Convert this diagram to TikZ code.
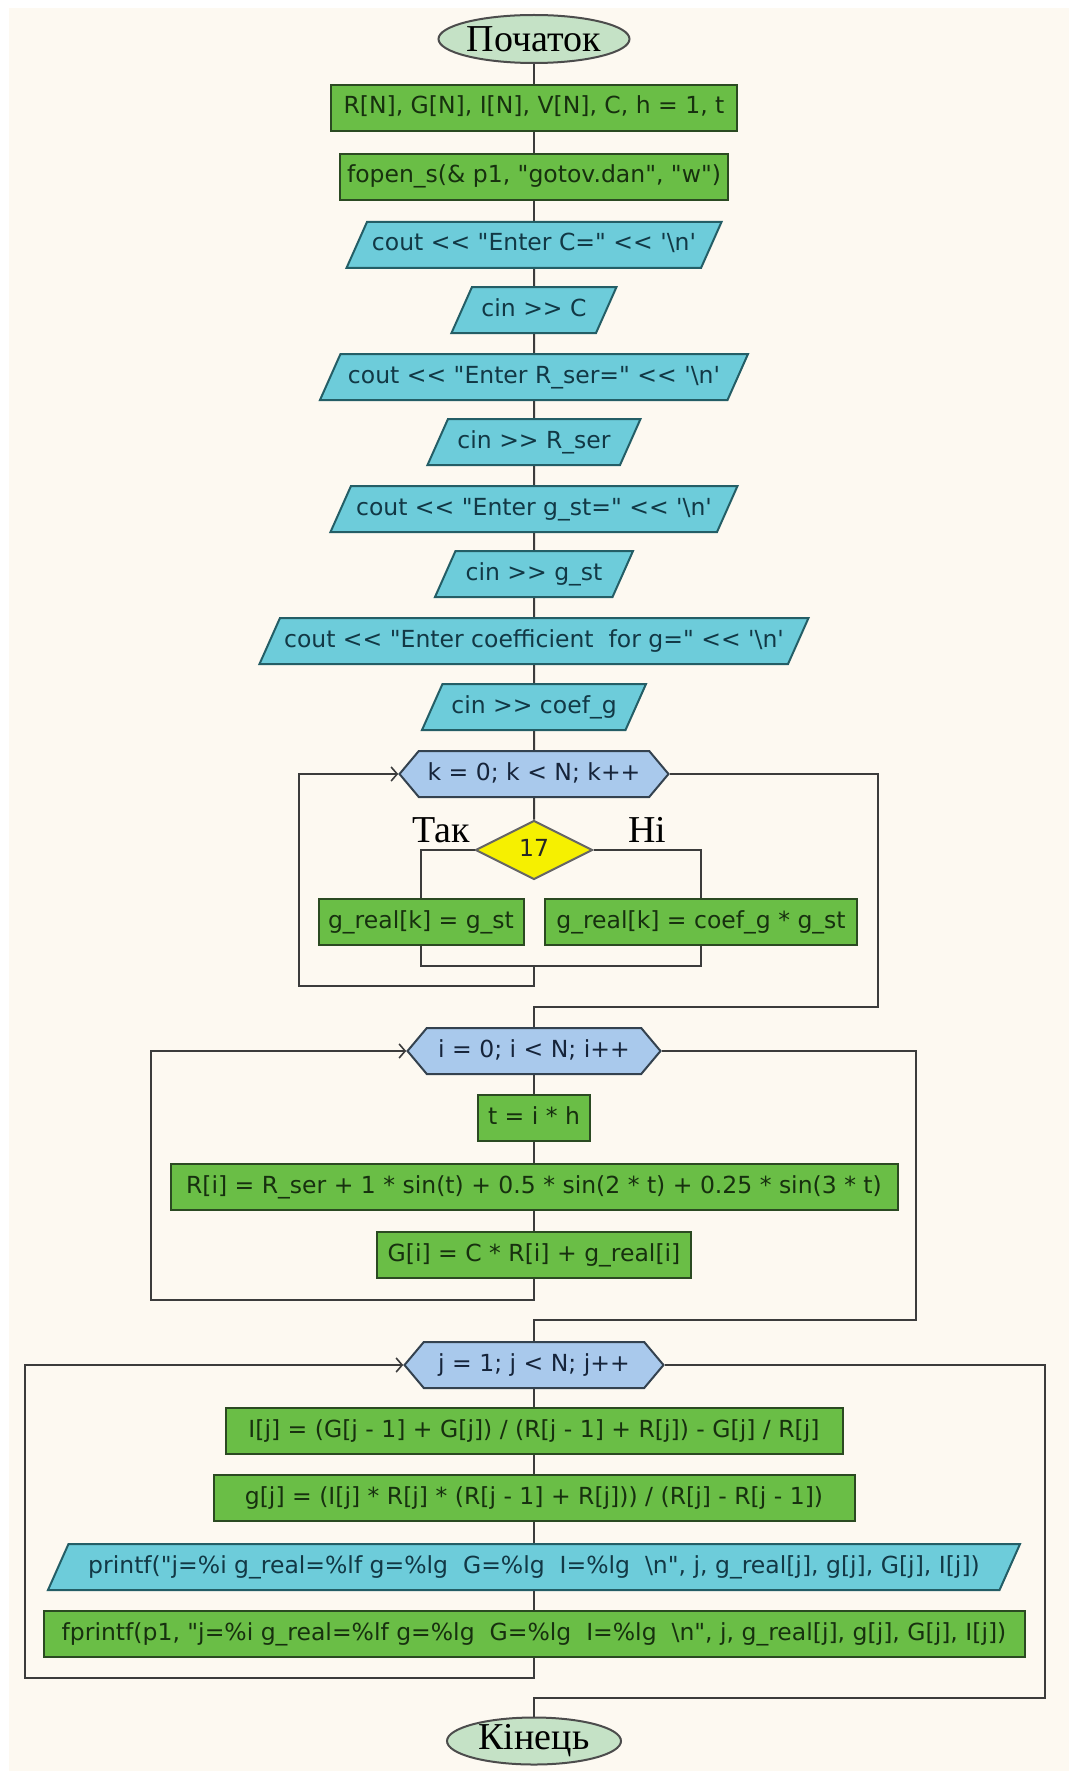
\documentclass[tikz,border=0pt]{standalone}
\usepackage{fontspec}
\setmainfont{DejaVu Sans}
\newfontfamily\codefont{DejaVu Sans}
\newfontfamily\labelfont{Liberation Serif}
\usetikzlibrary{shapes.geometric,shapes.symbols,arrows.meta}

\definecolor{bgcream}{HTML}{FDF9F1}
\definecolor{procfill}{HTML}{6ABE46}
\definecolor{procline}{HTML}{2B4A22}
\definecolor{proctext}{HTML}{17300F}
\definecolor{iofill}{HTML}{6DCCDA}
\definecolor{ioline}{HTML}{245E66}
\definecolor{iotext}{HTML}{123845}
\definecolor{loopfill}{HTML}{A9C9EC}
\definecolor{loopline}{HTML}{34424F}
\definecolor{looptext}{HTML}{16243A}
\definecolor{condfill}{HTML}{F6F000}
\definecolor{termfill}{HTML}{C5E2C6}
\definecolor{wirecol}{HTML}{3C3C3C}

\tikzset{
  code/.style={font=\codefont\fontsize{23.5}{27}\selectfont, text height=18pt, text depth=6pt},
  proc/.style={code, rectangle, draw=procline, fill=procfill, line width=2pt,
    minimum height=46pt, inner sep=0pt, text=proctext},
  io/.style={code, trapezium, trapezium left angle=66, trapezium right angle=114,
    trapezium stretches body, draw=ioline, fill=iofill, line width=2pt,
    inner xsep=0pt, inner ysep=11pt, text=iotext},
  loophead/.style={code, signal, signal to=west and east, signal pointer angle=100,
    draw=loopline, fill=loopfill, line width=2pt, minimum height=46pt,
    inner sep=0pt, text=looptext},
  cond/.style={code, diamond, draw=black!60, fill=condfill, line width=2pt,
    minimum width=117pt, minimum height=59pt, inner sep=0pt, text=black!85},
  term/.style={ellipse, draw=black!70, fill=termfill, line width=2pt,
    inner sep=0pt, font=\labelfont\fontsize{38}{40}\selectfont},
  lbl/.style={font=\labelfont\fontsize{38}{40}\selectfont, inner sep=0pt},
  wire/.style={draw=wirecol, line width=2pt},
  back/.style={wire, -{Straight Barb[length=6pt, width=14pt, line width=1.6pt]}}
}

\begin{document}
\begin{tikzpicture}[x=1pt, y=-1pt]
        % page
        \useasboundingbox (0,0) rectangle (1069,1771);
        \fill[white] (0,0) rectangle (1069,1771);
        \fill[bgcream] (9,8) rectangle (1069,1771);

        % start and the set-up steps
        \node[term, minimum width=191pt, minimum height=48pt] (start) at (534,39) {Початок};
        \node[proc, minimum width=406pt] (decl) at (534,108) {R[N], G[N], I[N], V[N], C, h = 1, t};
        \node[proc, minimum width=388pt] (fopen) at (534,177) {fopen\_s(\& p1, "gotov.dan", "w")};

        % the input
        \node[io, minimum width=375pt] (askC) at (534,245) {cout << "Enter C=" << '\textbackslash n'};
        \node[io, minimum width=165pt] (inC) at (534,310) {cin >> C};
        \node[io, minimum width=428pt] (askR) at (534,377) {cout << "Enter R\_ser=" << '\textbackslash n'};
        \node[io, minimum width=213pt] (inR) at (534,442) {cin >> R\_ser};
        \node[io, minimum width=407pt] (askG) at (534,509) {cout << "Enter g\_st=" << '\textbackslash n'};
        \node[io, minimum width=198pt] (inG) at (534,574) {cin >> g\_st};
        \node[io, minimum width=549pt] (askCoef) at (534,641) {cout << "Enter coefficient\ \ for g=" << '\textbackslash n'};
        \node[io, minimum width=224pt] (inCoef) at (534,707) {cin >> coef\_g};

        % loop over k
        \node[loophead, minimum width=269pt] (kloop) at (534,774) {k = 0; k < N; k++};
        \node[cond] (kcond) at (534,850) {17};
        \node[lbl, anchor=base east] (yes) at (470,842) {Так};
        \node[lbl, anchor=base west] (no) at (628,842) {Ні};
        \node[proc, minimum width=205pt] (gyes) at (421,922) {g\_real[k] = g\_st};
        \node[proc, minimum width=312pt] (gno) at (701,922) {g\_real[k] = coef\_g * g\_st};
        \coordinate (kmerge) at (534,966);
        \coordinate (kback) at (299,986);
        \coordinate (kexit) at (878,1007);

        % loop over i
        \node[loophead, minimum width=253pt] (iloop) at (534,1051) {i = 0; i < N; i++};
        \node[proc, minimum width=112pt] (tstep) at (534,1118) {t = i * h};
        \node[proc, minimum width=727pt] (rcalc) at (534,1187) {R[i] = R\_ser + 1 * sin(t) + 0.5 * sin(2 * t) + 0.25 * sin(3 * t)};
        \node[proc, minimum width=314pt] (gcalc) at (534,1255) {G[i] = C * R[i] + g\_real[i]};
        \coordinate (iback) at (151,1300);
        \coordinate (iexit) at (916,1320);

        % loop over j
        \node[loophead, minimum width=259pt] (jloop) at (534,1365) {j = 1; j < N; j++};
        \node[proc, minimum width=617pt] (icalc) at (534,1431) {I[j] = (G[j - 1] + G[j]) / (R[j - 1] + R[j]) - G[j] / R[j]};
        \node[proc, minimum width=641pt] (gjcalc) at (534,1498) {g[j] = (I[j] * R[j] * (R[j - 1] + R[j])) / (R[j] - R[j - 1])};
        \node[io, minimum width=972pt] (show) at (534,1567) {printf("j=\%i g\_real=\%lf g=\%lg\ \ G=\%lg\ \ I=\%lg\ \ \textbackslash n", j, g\_real[j], g[j], G[j], I[j])};
        \node[proc, minimum width=981pt] (save) at (534,1634) {fprintf(p1, "j=\%i g\_real=\%lf g=\%lg\ \ G=\%lg\ \ I=\%lg\ \ \textbackslash n", j, g\_real[j], g[j], G[j], I[j])};
        \coordinate (jback) at (25,1678);
        \coordinate (jexit) at (1045,1698);
        \node[term, minimum width=174pt, minimum height=47pt] (stop) at (534,1741) {Кінець};

        % the straight chain
        \draw[wire] (start) -- (decl);
        \draw[wire] (decl) -- (fopen);
        \draw[wire] (fopen) -- (askC);
        \draw[wire] (askC) -- (inC);
        \draw[wire] (inC) -- (askR);
        \draw[wire] (askR) -- (inR);
        \draw[wire] (inR) -- (askG);
        \draw[wire] (askG) -- (inG);
        \draw[wire] (inG) -- (askCoef);
        \draw[wire] (askCoef) -- (inCoef);
        \draw[wire] (inCoef) -- (kloop);

        % branches of k loop
        \draw[wire] (kloop) -- (kcond);
        \draw[wire] (kcond.west) -| (gyes);
        \draw[wire] (kcond.east) -| (gno);
        \draw[wire] (gyes.south) |- (kmerge) -| (gno.south);
        \draw[back] (kmerge) |- (kback) |- (kloop.west);
        \draw[wire] (kloop.east) -| (kexit) -| (iloop.north);

        % body of i loop
        \draw[wire] (iloop) -- (tstep);
        \draw[wire] (tstep) -- (rcalc);
        \draw[wire] (rcalc) -- (gcalc);
        \draw[back] (gcalc.south) |- (iback) |- (iloop.west);
        \draw[wire] (iloop.east) -| (iexit) -| (jloop.north);

        % body of j loop
        \draw[wire] (jloop) -- (icalc);
        \draw[wire] (icalc) -- (gjcalc);
        \draw[wire] (gjcalc) -- (show);
        \draw[wire] (show) -- (save);
        \draw[back] (save.south) |- (jback) |- (jloop.west);
        \draw[wire] (jloop.east) -| (jexit) -| (stop.north);
\end{tikzpicture}
\end{document}
